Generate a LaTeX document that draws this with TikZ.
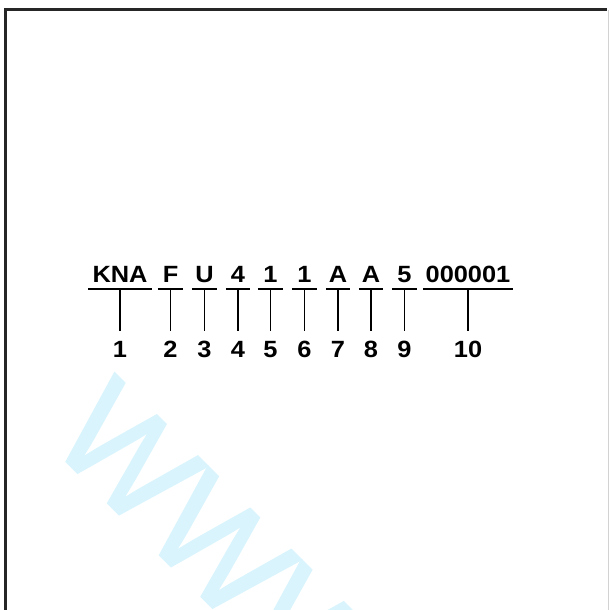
\documentclass[tikz,border=0pt]{standalone}
\usepackage{fontspec}
\setmainfont{Liberation Sans}
\newfontfamily\vinfont[FakeStretch=1.08]{Liberation Sans}
\newfontfamily\markfont[FakeBold=1.6]{Liberation Sans}
\usepackage{xcolor}
\usepackage{tikz}
\usetikzlibrary{positioning}
\definecolor{markblue}{HTML}{D9F4FD}
\definecolor{framegray}{HTML}{D2D2D2}

\begin{document}
\begin{tikzpicture}[
    x=1pt, y=-1pt,
    code/.style={
        font=\vinfont\bfseries\fontsize{23.5}{24}\selectfont,
        inner sep=0pt,
        text depth=6.5pt,
        anchor=base
    },
    idx/.style={
        font=\vinfont\bfseries\fontsize{23.5}{24}\selectfont,
        inner xsep=0pt,
        inner ysep=9pt,
        text height=16.5pt,
        text depth=0pt,
        anchor=base
    },
    bar/.style={line width=2pt},
    stem/.style={line width=1.7pt}
]
\useasboundingbox (0,0) rectangle (610,610);
\clip (0,0) rectangle (610,610);

\node[text=markblue, font=\markfont\fontsize{140}{140}\selectfont, rotate=-45,
      anchor=base west, inner sep=0pt] (mark) at (46,441) {WWW};

\draw[line width=2.7pt, black!85] (5.4,620) -- (5.4,9.7) -- (607,9.7);
\draw[framegray, line width=1pt] (608.8,9.7) -- (608.8,620);

\foreach \txt/\cx/\w/\n in {KNA/120/63/1, F/170.5/25/2, U/204.5/25/3,
        4/238/24/4, 1/270.5/25/5, 1/304.5/25/6, A/338/24/7,
        A/371/24/8, 5/404.5/25/9, 000001/468/90/10} {
    \node[code, minimum width=\w pt] (k\n) at (\cx,282) {\txt};
    \node[idx] (n\n) at (\cx,357) {\n};
    \draw[bar] (k\n.south west) -- (k\n.south east);
    \draw[stem] (k\n.south) -- (n\n.north);
}

\end{tikzpicture}
\end{document}
